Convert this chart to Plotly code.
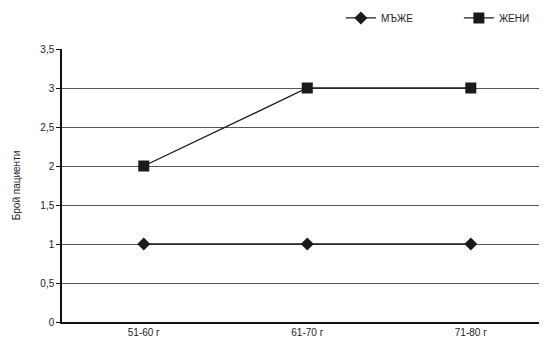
import plotly.graph_objects as go

categories = ["51-60 г", "61-70 г", "71-80 г"]
men = [1, 1, 1]
women = [2, 3, 3]
y_ticks = [0, 0.5, 1, 1.5, 2, 2.5, 3, 3.5]
y_tick_labels = ["0", "0,5", "1", "1,5", "2", "2,5", "3", "3,5"]

fig = go.Figure()
fig.add_trace(go.Scatter(x=[0, 1, 2], y=men, name="МЪЖЕ", mode="lines+markers",
                         line=dict(color="#1a1a1a", width=1.3),
                         marker=dict(symbol="diamond", size=10, color="#1a1a1a")))
fig.add_trace(go.Scatter(x=[0, 1, 2], y=women, name="ЖЕНИ", mode="lines+markers",
                         line=dict(color="#1a1a1a", width=1.3),
                         marker=dict(symbol="square", size=11, color="#1a1a1a")))

# page body has an 8px margin, so the figure is offset by (8, 8)
fig.update_layout(
    width=539, height=335,
    margin=dict(l=54, r=0, t=41, b=21, autoexpand=False),
    plot_bgcolor="white", paper_bgcolor="white",
    font=dict(family="Liberation Sans, Arial, sans-serif", size=10, color="#222"),
    showlegend=True,
    legend=dict(orientation="h", x=0.575, y=1.114, xanchor="left", yanchor="middle",
                font=dict(size=10), entrywidth=73, entrywidthmode="pixels",
                bgcolor="rgba(0,0,0,0)"),
    xaxis=dict(range=[-0.5, 2.466], tickvals=[0, 1, 2], ticktext=categories,
               showgrid=False, showline=True, linecolor="#111", linewidth=1.5,
               ticks="", zeroline=False, fixedrange=True),
    yaxis=dict(range=[0, 3.5], tickvals=y_ticks, ticktext=y_tick_labels,
               showgrid=True, gridcolor="#555", gridwidth=1,
               showline=True, linecolor="#111", linewidth=1.5,
               ticks="outside", ticklen=4, tickcolor="#111", zeroline=False,
               title=dict(text="Брой пациенти", font=dict(size=10), standoff=18)),
)
fig.write_html("out.html")
